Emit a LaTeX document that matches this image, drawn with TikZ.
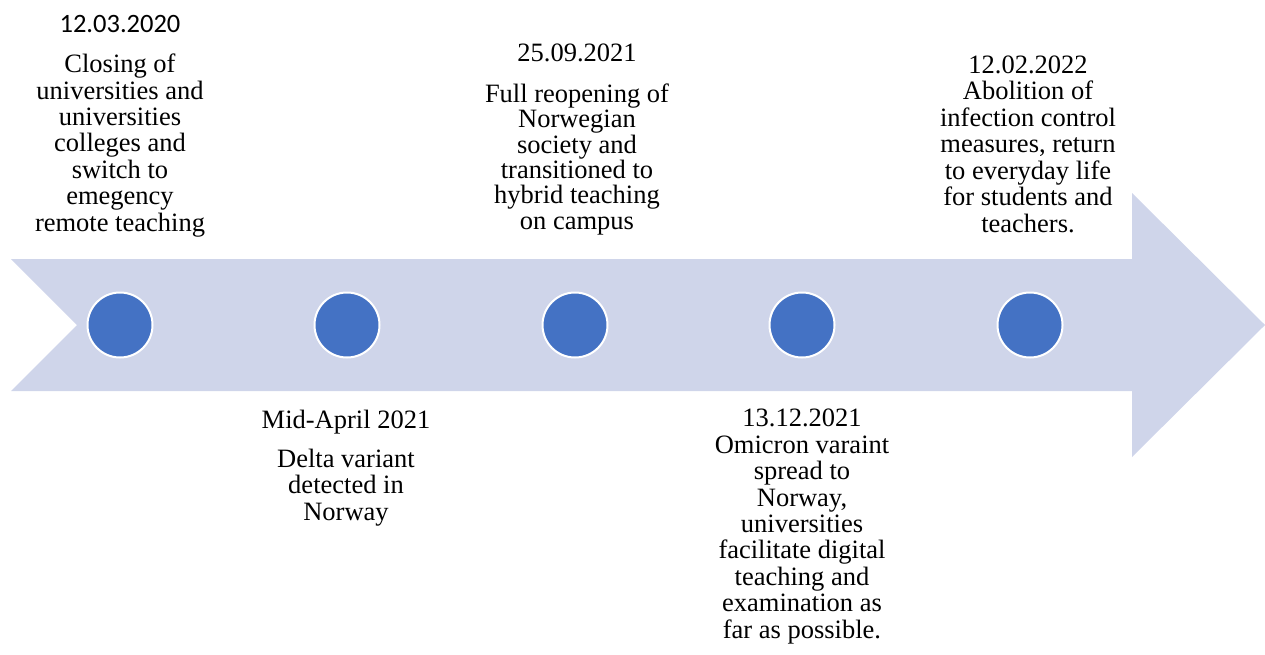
\documentclass[tikz,border=0pt]{standalone}
\usepackage{fontspec}
\setmainfont{Liberation Serif}
\newfontfamily\bodyfont{Liberation Serif}
\newfontfamily\datefont{Carlito}
\definecolor{bandfill}{HTML}{CFD5EA}
\definecolor{dotfill}{HTML}{4472C4}
\begin{document}
\begin{tikzpicture}[x = 1pt, y = -1pt, align = center,
    dot/.style = { circle, fill = dotfill, draw = white, line width = 2pt, minimum size = 65pt, inner sep = 0pt },
    event/.style = { anchor = base, inner sep = 0pt, font = \bodyfont\fontsize{26.5}{26.4}\selectfont }]
  \useasboundingbox (0, 0) rectangle (1265, 655);
  % timeline band
  \fill[bandfill] (11, 259) -- (1132, 259) -- (1132, 193) -- (1265, 325) -- (1132, 457)
    -- (1132, 391) -- (11, 391) -- (77, 325) -- cycle;
  \node[dot] (d1) at ( 120, 325) {};
  \node[dot] (d2) at ( 347, 325) {};
  \node[dot] (d3) at ( 575, 325) {};
  \node[dot] (d4) at ( 802, 325) {};
  \node[dot] (d5) at (1030, 325) {};
  % events
  \node[event] (e1) at ( 120, 231) {{\datefont 12.03.2020} \\[14pt] Closing of \\ universities and \\ universities \\ colleges and \\ switch to \\ emegency \\ remote teaching};
  \node[event] (e2) at ( 346, 520) {Mid-April 2021 \\[12.6pt] Delta variant \\ detected in \\ Norway};
  \node[event, font = \bodyfont\fontsize{26.5}{25.3}\selectfont] (e3) at ( 577, 229) {25.09.2021 \\[15.4pt] Full reopening of \\ Norwegian \\ society and \\ transitioned to \\ hybrid teaching \\ on campus};
  \node[event] (e4) at ( 802, 638) {13.12.2021 \\ Omicron varaint \\ spread to \\ Norway, \\ universities \\ facilitate digital \\ teaching and \\ examination as \\ far as possible.};
  \node[event] (e5) at (1028, 232) {12.02.2022 \\ Abolition of \\ infection control \\ measures, return \\ to everyday life \\ for students and \\ teachers.};
\end{tikzpicture}
\end{document}
